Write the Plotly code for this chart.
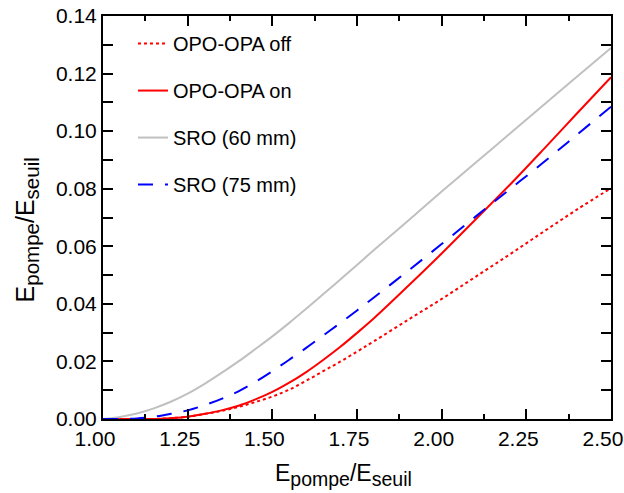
import plotly.graph_objects as go

# ---- data ----
x_vals = [1.00, 1.05, 1.10, 1.15, 1.20, 1.25, 1.30, 1.35, 1.40, 1.45, 1.50, 1.55, 1.60, 1.65, 1.70, 1.75,
          1.80, 1.90, 2.00, 2.10, 2.20, 2.30, 2.40, 2.50]

opo_opa_off = [0.0, 0.0, 0.0, 0.0, 0.0003, 0.0008, 0.0017, 0.0028, 0.0042, 0.0059, 0.0078, 0.0102, 0.0133,
               0.0166, 0.0199, 0.0234, 0.0270, 0.0344, 0.0417, 0.0494, 0.0571, 0.0650, 0.0728, 0.0802]

opo_opa_on = [0.0, 0.0, 0.0, 0.0, 0.0003, 0.0008, 0.0018, 0.0030, 0.0046, 0.0068, 0.0094, 0.0126, 0.0163,
              0.0205, 0.0250, 0.0299, 0.0350, 0.0461, 0.0575, 0.0693, 0.0812, 0.0936, 0.1062, 0.1187]

sro_60 = [0.0, 0.0007, 0.0019, 0.0037, 0.0060, 0.0088, 0.0122, 0.0160, 0.0200, 0.0243, 0.0287, 0.0334, 0.0383,
          0.0433, 0.0484, 0.0535, 0.0587, 0.0688, 0.0790, 0.0890, 0.0990, 0.1090, 0.1190, 0.1289]

sro_75 = [0.0, 0.0, 0.0002, 0.0008, 0.0018, 0.0030, 0.0048, 0.0070, 0.0096, 0.0129, 0.0166, 0.0206, 0.0247,
          0.0290, 0.0333, 0.0377, 0.0422, 0.0514, 0.0608, 0.0703, 0.0797, 0.0891, 0.0988, 0.1085]

series_names = ["OPO-OPA off", "OPO-OPA on", "SRO (60 mm)", "SRO (75 mm)"]

x_tick_vals = [1.00, 1.25, 1.50, 1.75, 2.00, 2.25, 2.50]
x_tick_text = ["1.00", "1.25", "1.50", "1.75", "2.00", "2.25", "2.50"]
y_tick_vals = [0.00, 0.02, 0.04, 0.06, 0.08, 0.10, 0.12, 0.14]
y_tick_text = ["0.00", "0.02", "0.04", "0.06", "0.08", "0.10", "0.12", "0.14"]

x_title = ("E<sub><span style='font-size:19.5px'>pompe</span></sub>/"
           "E<sub><span style='font-size:19.5px'>seuil</span></sub>")
y_title = ("E<sub><span style='font-size:20.5px'>pompe</span></sub>/"
           "E<sub><span style='font-size:20.5px'>seuil</span></sub>")

# ---- figure ----
fig = go.Figure()
styles = [
    dict(color="#ff0000", width=2, dash="dot"),
    dict(color="#ff0000", width=2, dash="solid"),
    dict(color="#c0c0c0", width=2, dash="solid"),
    dict(color="#0000ff", width=2, dash="15px,12px"),
]
for name, yv, st in zip(series_names, [opo_opa_off, opo_opa_on, sro_60, sro_75], styles):
    fig.add_trace(go.Scatter(x=x_vals, y=yv, mode="lines", name=name, line=st,
                             line_shape="spline", legendgroup=name))

font_family = "Liberation Sans, Arial, sans-serif"
axis_common = dict(
    showline=True, linecolor="black", linewidth=2, mirror="allticks",
    ticks="inside", tickcolor="black", tickwidth=1.5,
    showgrid=False, zeroline=False, automargin=False,
    ticklabeloverflow="allow",
    tickfont=dict(family=font_family, size=21, color="black"),
)

fig.update_xaxes(
    range=[1.0, 2.5], tickvals=x_tick_vals, ticktext=x_tick_text, ticklen=10,
    ticklabelshift=-8,
    minor=dict(dtick=0.125, tick0=1.0, ticks="inside", ticklen=5, tickcolor="black", tickwidth=1.5),
    **axis_common,
)
fig.update_yaxes(
    range=[0.0, 0.14], tickvals=y_tick_vals, ticktext=y_tick_text, ticklen=10,
    minor=dict(dtick=0.01, tick0=0.0, ticks="inside", ticklen=10, tickcolor="black", tickwidth=1.5),
    **axis_common,
)

fig.add_annotation(text=x_title, xref="paper", yref="paper", x=0.473, y=-0.18,
                   xanchor="center", yanchor="bottom", showarrow=False,
                   font=dict(family=font_family, size=23, color="black"))
fig.add_annotation(text=y_title, xref="paper", yref="paper", x=-0.15, y=0.47,
                   xanchor="center", yanchor="middle", showarrow=False, textangle=-90,
                   font=dict(family=font_family, size=25, color="black"))

fig.update_layout(
    width=624, height=493,
    margin=dict(l=103, r=13, t=16, b=74, autoexpand=False),
    paper_bgcolor="white", plot_bgcolor="white",
    font=dict(family=font_family, size=20, color="black"),
    legend=dict(x=0.059, y=0.98, xanchor="left", yanchor="top",
                bgcolor="rgba(0,0,0,0)", borderwidth=0, tracegroupgap=18,
                font=dict(family=font_family, size=20, color="black")),
    showlegend=True,
)

fig.write_html("out.html", config={"displayModeBar": False},
               post_script="document.body.style.margin='0';document.body.style.padding='0';")
